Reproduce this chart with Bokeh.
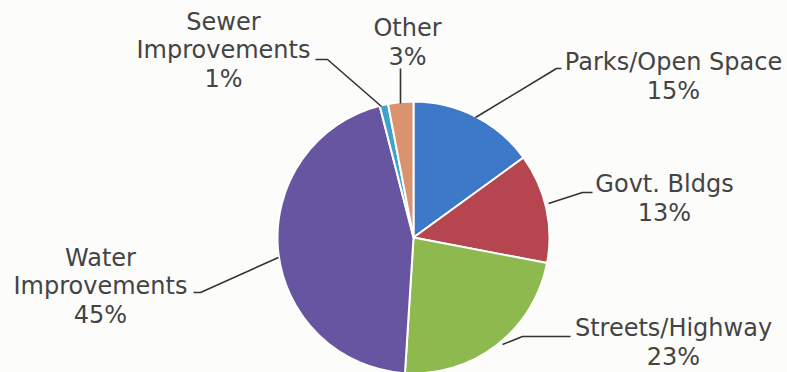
import math
from bokeh.plotting import figure
from bokeh.models import ColumnDataSource, Range1d
from bokeh.core.properties import value
from bokeh.embed import file_html
from bokeh.resources import INLINE

# ---- data ----
categories = ["Parks/Open Space", "Govt. Bldgs", "Streets/Highway",
              "Water\nImprovements", "Sewer\nImprovements", "Other"]
percents = [15, 13, 23, 45, 1, 3]
colors = ["#3D78C9", "#B54650", "#8DB94E", "#6755A1", "#3FA3C9", "#D9936E"]

# label block centres (x, y measured from top) and leader lines (from top)
label_x = [673, 664, 673, 100, 223, 407]
label_y = [76, 198, 342, 286, 50, 42]
leader_x = [[475, 556, 561], [548, 582, 592], [502, 522, 570],
            [278, 200, 193], [381, 327, 315], [400, 400]]
leader_y = [[117, 68, 68], [203, 192, 192], [344, 336, 336],
            [257, 292, 292], [106, 59, 59], [103, 68]]

W, H = 787, 372
CX, CY, R = 413, 237, 136

total = sum(percents)
starts, ends = [], []
acc = 0.0
for v in percents:
    starts.append(math.pi / 2 - 2 * math.pi * acc / total)
    acc += v
    ends.append(math.pi / 2 - 2 * math.pi * acc / total)

src = ColumnDataSource(dict(start=starts, end=ends, color=colors))

p = figure(width=W, height=H, x_range=Range1d(0, W), y_range=Range1d(0, H),
           min_border=0, toolbar_location=None, output_backend="svg",
           x_axis_location=None, y_axis_location=None)
p.grid.visible = False
p.outline_line_color = None
p.background_fill_color = "#FCFCFB"
p.border_fill_color = "#FCFCFB"

p.wedge(x=CX, y=H - CY, radius=R, start_angle="start", end_angle="end",
        direction="clock", fill_color="color", line_color="white",
        line_width=2, source=src)

p.multi_line(xs=leader_x, ys=[[H - y for y in ys] for ys in leader_y],
             line_color="#333333", line_width=1.6)

texts = [f"{c}\n{v}%" for c, v in zip(categories, percents)]
tsrc = ColumnDataSource(dict(x=label_x, y=[H - y for y in label_y], t=texts))
p.text(x="x", y="y", text="t", source=tsrc, text_align="center",
       text_baseline="middle", text_font=value("DejaVu Sans"),
       text_font_size="24px", text_color="#444444", text_line_height=1.03)

open("out.html", "w").write(file_html(p, INLINE))
